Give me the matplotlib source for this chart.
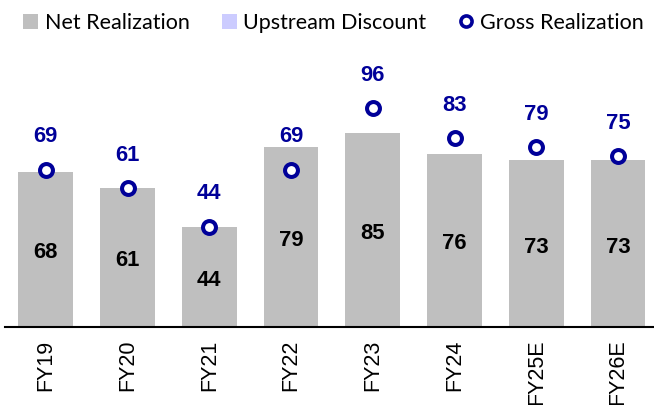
import matplotlib
matplotlib.use("Agg")
import matplotlib.pyplot as plt
from matplotlib.patches import Patch
from matplotlib.lines import Line2D

categories = ["FY19", "FY20", "FY21", "FY22", "FY23", "FY24", "FY25E", "FY26E"]
net_realization = [68, 61, 44, 79, 85, 76, 73, 73]
upstream_discount = [0, 0, 0, 0, 0, 0, 0, 0]
gross_realization = [69, 61, 44, 69, 96, 83, 79, 75]

GRAY = "#BFBFBF"
LAV = "#CCCCFF"
NAVY = "#000099"

fig = plt.figure(figsize=(6.54, 4.05), dpi=100)
ax = fig.add_axes([5/654, 78/405, 1 - 5/654, 0.9 - 78/405])

x = list(range(len(categories)))
ax.bar(x, net_realization, width=0.67, color=GRAY, zorder=2)
ax.bar(x, upstream_discount, bottom=net_realization, width=0.67, color=LAV, zorder=2)
ax.plot(x, gross_realization, linestyle="none", marker="o", markersize=9.3,
        markeredgewidth=2.9, markeredgecolor=NAVY, markerfacecolor="white", zorder=4)

for i, v in enumerate(net_realization):
    ax.text(i, v / 2 - 1.5, str(v), ha="center", va="center", fontsize=15.8,
            fontweight="bold", family="Liberation Sans", color="black", zorder=5)
for i, v in enumerate(gross_realization):
    ax.annotate(str(v), (i, v), xytext=(0, 23.5), textcoords="offset points",
                ha="center", va="center", fontsize=15.8, fontweight="bold",
                family="Liberation Sans", color=NAVY, zorder=5)

ax.set_xlim(-0.5, 7.44)
ax.set_ylim(0, 125.6)
for s in ["top", "right", "left"]:
    ax.spines[s].set_visible(False)
ax.spines["bottom"].set_linewidth(1.5)
ax.spines["bottom"].set_color("black")
ax.set_yticks([])
ax.set_xticks(x)
ax.set_xticklabels(categories, rotation=90, fontsize=15.5, family="Liberation Sans")
ax.tick_params(axis="x", length=0, pad=9)

handles = [Patch(facecolor=GRAY, edgecolor="none"),
           Patch(facecolor=LAV, edgecolor="none"),
           Line2D([], [], linestyle="none", marker="o", markersize=8,
                  markeredgewidth=2.6, markeredgecolor=NAVY, markerfacecolor="white")]
labels = ["Net Realization", "Upstream Discount", "Gross Realization"]
fig.legend(handles, labels, loc="center", bbox_to_anchor=(0.51, 1 - 23/405), ncol=3,
           frameon=False, prop={"family": "Lato", "size": 15.5},
           handlelength=0.7, handleheight=0.7, handletextpad=0.3, columnspacing=1.5,
           borderaxespad=0)

fig.savefig("out.png", dpi=100)
